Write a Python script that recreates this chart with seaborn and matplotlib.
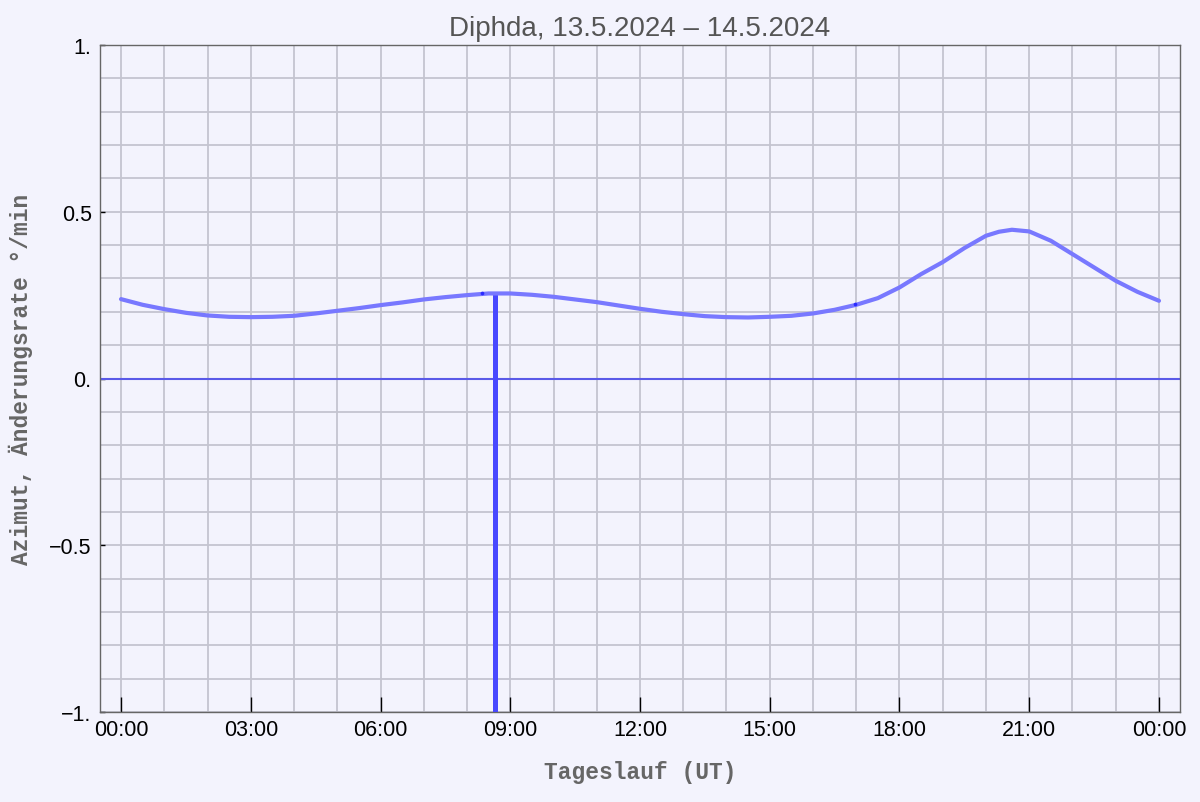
import matplotlib
matplotlib.use("Agg")
import matplotlib.pyplot as plt
import seaborn as sns
import pandas as pd

# ---- data ----
hours = [0, 0.5, 1, 1.5, 2, 2.5, 3, 3.5, 4, 4.5, 5, 5.5, 6, 6.5, 7, 7.5, 8,
         8.5, 9, 9.5, 10, 10.5, 11, 11.5, 12, 12.5, 13, 13.5, 14, 14.5, 15,
         15.5, 16, 16.5, 17, 17.5, 18, 18.5, 19, 19.5, 20, 20.3, 20.6, 21,
         21.5, 22, 22.5, 23, 23.5, 24]
rates = [0.238, 0.221, 0.208, 0.197, 0.189, 0.185, 0.184, 0.185, 0.188, 0.195,
         0.203, 0.211, 0.220, 0.228, 0.237, 0.244, 0.250, 0.255, 0.255, 0.251,
         0.245, 0.237, 0.229, 0.219, 0.209, 0.200, 0.193, 0.187, 0.184, 0.183,
         0.185, 0.188, 0.195, 0.206, 0.221, 0.241, 0.273, 0.313, 0.349, 0.391,
         0.428, 0.440, 0.446, 0.441, 0.413, 0.373, 0.333, 0.293, 0.260, 0.233]
marker_hours = [8.34, 16.97]
marker_rates = [0.255, 0.222]
meridian_hour = 8.64
meridian_top = 0.256
x_ticks = [0, 3, 6, 9, 12, 15, 18, 21, 24]
x_tick_labels = ["00:00", "03:00", "06:00", "09:00", "12:00", "15:00",
                 "18:00", "21:00", "00:00"]
y_ticks = [-1, -0.5, 0, 0.5, 1]
y_tick_labels = ["\u22121.", "\u22120.5", "0.", "0.5", "1."]
title = "Diphda, 13.5.2024 \u2013 14.5.2024"
xlabel = "Tageslauf (UT)"
ylabel = "Azimut, \u00c4nderungsrate \u00b0/min"

df = pd.DataFrame({"h": hours, "r": rates})

sns.set_theme(style="white")
plt.rcParams["font.family"] = ["Liberation Sans", "DejaVu Sans"]

bg = "#f3f3fd"
fig = plt.figure(figsize=(12, 8.03), dpi=100, facecolor=bg)
ax = fig.add_axes([100 / 1200, 1 - 713 / 803, 1080 / 1200, 667 / 803])
ax.set_facecolor(bg)

# grid
for h in range(0, 25):
    ax.axvline(h, color="#c4c4d0", lw=1.3, zorder=0)
for k in range(-10, 11):
    ax.axhline(k / 10, color="#c4c4d0", lw=1.3, zorder=0)

ax.axhline(0, color="#5a5ae8", lw=1.5, zorder=2)
ax.plot([meridian_hour, meridian_hour], [meridian_top, -1.2],
        color="#4848ff", lw=3.6, zorder=3, solid_capstyle="butt")
sns.lineplot(data=df, x="h", y="r", ax=ax, color="#7878ff", lw=3.0,
             zorder=4, sort=True)
ax.scatter(marker_hours, marker_rates, s=7, color="#2a2aff", zorder=5,
           linewidths=0)

ax.set_xlim(-0.486, 24.486)
ax.set_ylim(-1, 1)
ax.set_xticks(x_ticks)
ax.set_xticklabels(x_tick_labels)
ax.set_yticks(y_ticks)
ax.set_yticklabels(y_tick_labels)

ax.tick_params(axis="x", direction="in", length=10.8, width=1, color="black",
               labelsize=15.5, pad=5, bottom=True, top=False)
ax.tick_params(axis="y", direction="in", length=3.6, width=1, color="black",
               labelsize=15.5, pad=6, left=True, right=False)
for lab in ax.get_xticklabels() + ax.get_yticklabels():
    lab.set_color("black")

for s in ax.spines.values():
    s.set_color("#666666")
    s.set_linewidth(1.0)
    s.set_visible(True)

ax.set_title(title, fontsize=20, color="#555555", pad=7)
ax.set_xlabel(xlabel, fontsize=16.5, color="#666666",
              family=["Liberation Mono", "DejaVu Sans Mono"], weight="bold")
ax.set_ylabel(ylabel, fontsize=16.5, color="#666666",
              family=["Liberation Mono", "DejaVu Sans Mono"], weight="bold")
ax.xaxis.set_label_coords(0.5, -0.072)
ax.yaxis.set_label_coords(-0.062, 0.5)

fig.savefig("out.png", dpi=100, facecolor=bg)
